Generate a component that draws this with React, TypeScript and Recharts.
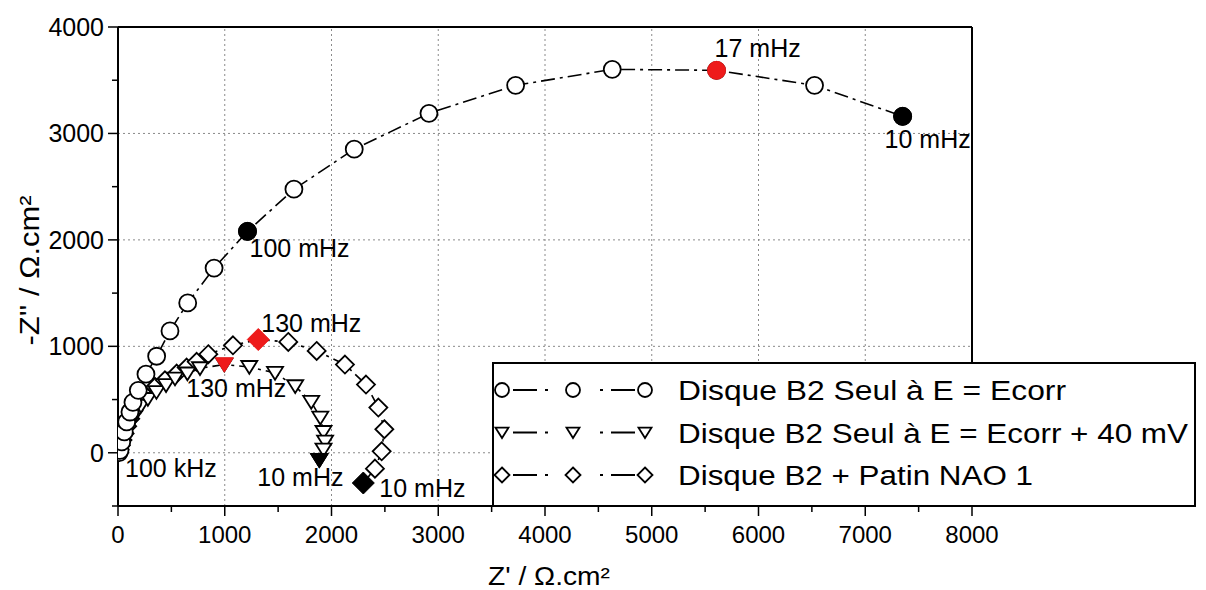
import React from 'react';
import { ScatterChart, Scatter, XAxis, YAxis, ReferenceLine, Label } from 'recharts';

const FONT = "'Liberation Sans', Arial, Helvetica, sans-serif";

// Z' and -Z'' (ohm.cm2), highest frequency first
const ecorrRe = [10, 19, 35, 59, 81, 112, 140, 190, 262, 362, 487, 653, 900, 1213, 1648, 2213, 2913, 3725, 4630, 5607, 6525, 7350];
const ecorrIm = [2, 23, 102, 196, 290, 383, 474, 587, 738, 907, 1145, 1408, 1735, 2080, 2476, 2852, 3189, 3452, 3602, 3593, 3452, 3161];

const plus40Re = [8, 16, 28, 45, 66, 92, 125, 165, 215, 280, 360, 450, 534, 650, 768, 996, 1230, 1471, 1660, 1810, 1895, 1925, 1940, 1925, 1886];
const plus40Im = [5, 30, 70, 120, 175, 235, 300, 370, 440, 505, 570, 635, 697, 745, 794, 829, 806, 750, 625, 478, 330, 195, 105, 30, -70];

const patinRe = [6, 14, 26, 42, 62, 86, 115, 145, 175, 253, 347, 440, 550, 643, 737, 846, 1077, 1314, 1595, 1861, 2126, 2323, 2439, 2495, 2470, 2407, 2298];
const patinIm = [4, 30, 70, 120, 180, 250, 320, 395, 462, 540, 618, 681, 744, 800, 855, 926, 1010, 1064, 1041, 957, 829, 641, 425, 221, 14, -149, -284];

// frequency markers
const ecorrMarks = [
  { re: 10, im: 2, freq: '100 kHz', kind: 'text' },
  { re: 1213, im: 2080, freq: '100 mHz', kind: 'end' },
  { re: 5607, im: 3593, freq: '17 mHz', kind: 'peak' },
  { re: 7350, im: 3161, freq: '10 mHz', kind: 'end' },
];
const plus40Marks = [
  { re: 996, im: 829, freq: '130 mHz', kind: 'peak' },
  { re: 1886, im: -70, freq: '10 mHz', kind: 'end' },
];
const patinMarks = [
  { re: 1314, im: 1064, freq: '130 mHz', kind: 'peak' },
  { re: 2298, im: -284, freq: '10 mHz', kind: 'end' },
];

const xTicks = [0, 500, 1000, 1500, 2000, 2500, 3000, 3500, 4000, 4500, 5000, 5500, 6000, 6500, 7000, 7500, 8000];
const yTicks = [-500, 0, 500, 1000, 1500, 2000, 2500, 3000, 3500, 4000];
const xGrid = [1000, 2000, 3000, 4000, 5000, 6000, 7000];
const yGrid = [0, 1000, 2000, 3000];

const seriesNames = [
  'Disque B2 Seul à E = Ecorr',
  'Disque B2 Seul à E = Ecorr + 40 mV',
  'Disque B2 + Patin NAO 1',
];

const zip = (re: number[], im: number[]) => re.map((v, i) => ({ re: v, im: im[i] }));

const RED = '#ee1b1b';
const lineStyle = { stroke: '#000', strokeWidth: 1.6, strokeDasharray: '14 5 3 5' };

type Sym = 'circle' | 'triangle' | 'diamond';

function symbol(kind: Sym, cx: number, cy: number, s: number, fill: string, sw: number) {
  const stroke = fill === '#fff' ? '#000' : fill;
  if (kind === 'circle') {
    return <circle cx={cx} cy={cy} r={s} fill={fill} stroke={stroke} strokeWidth={sw} />;
  }
  if (kind === 'triangle') {
    const pts = `${cx - s},${cy - s * 0.75} ${cx + s},${cy - s * 0.75} ${cx},${cy + s * 0.85}`;
    return <polygon points={pts} fill={fill} stroke={stroke} strokeWidth={sw} />;
  }
  const pts = `${cx},${cy - s} ${cx + s},${cy} ${cx},${cy + s} ${cx - s},${cy}`;
  return <polygon points={pts} fill={fill} stroke={stroke} strokeWidth={sw} />;
}

const openShape = (kind: Sym, size: number) => (props: any) => {
  const { cx, cy } = props;
  if (cx == null || cy == null) return <g />;
  return symbol(kind, cx, cy, size, '#fff', 1.8);
};

// where each frequency label sits relative to its point (left edge, baseline)
const labelNudge: Record<string, [number, number]> = {
  'circle:100 kHz': [6, 24],
  'circle:100 mHz': [2, 26],
  'circle:17 mHz': [-2, -13],
  'circle:10 mHz': [-18, 32],
  'triangle:130 mHz': [-38, 32],
  'triangle:10 mHz': [-62, 26],
  'diamond:130 mHz': [3, -8],
  'diamond:10 mHz': [16, 14],
};

const markShape = (kind: Sym, size: number) => (props: any) => {
  const { cx, cy, payload } = props;
  if (cx == null || cy == null) return <g />;
  const [dx, dy] = labelNudge[`${kind}:${payload.freq}`] || [0, 0];
  return (
    <g>
      {payload.kind !== 'text' && symbol(kind, cx, cy, size, payload.kind === 'peak' ? RED : '#000', 1)}
      <text x={cx + dx} y={cy + dy} fontSize={25} fontFamily={FONT} fill="#000">{payload.freq}</text>
    </g>
  );
};

const XTick = (props: any) => {
  const { x, y, payload } = props;
  const major = payload.value % 1000 === 0;
  return (
    <g>
      <line x1={x} y1={y} x2={x} y2={y + (major ? 10 : 6)} stroke="#000" strokeWidth={1.5} />
      {major && (
        <text x={x} y={y + 37} textAnchor="middle" fontSize={24} fontFamily={FONT} fill="#000">{payload.value}</text>
      )}
    </g>
  );
};

const YTick = (props: any) => {
  const { x, y, payload } = props;
  const major = payload.value % 1000 === 0;
  return (
    <g>
      <line x1={x - (major ? 10 : 6)} y1={y} x2={x} y2={y} stroke="#000" strokeWidth={1.5} />
      {major && (
        <text x={x - 14} y={y + 9} textAnchor="end" fontSize={25} fontFamily={FONT} fill="#000">{payload.value}</text>
      )}
    </g>
  );
};

const legendWidths = [388, 510, 355];
const legendSyms: Sym[] = ['circle', 'triangle', 'diamond'];

const LegendBox = () => (
  <div
    style={{
      position: 'absolute', left: 492, top: 362, width: 704, height: 145, boxSizing: 'border-box',
      border: '2px solid #000', background: '#fff',
    }}
  >
    <svg width={700} height={141} style={{ display: 'block' }}>
      {seriesNames.map((name, i) => {
        const cy = 26 + i * 42.5;
        const sz = legendSyms[i] === 'circle' ? 7 : legendSyms[i] === 'triangle' ? 6.5 : 7.5;
        return (
          <g key={name}>
            <line x1={19} y1={cy} x2={70} y2={cy} stroke="#000" strokeWidth={2} strokeDasharray="24 8 3 100" />
            <line x1={90} y1={cy} x2={141} y2={cy} stroke="#000" strokeWidth={2} strokeDasharray="0 16 3 8 24 100" />
            {[8, 79, 151].map((mx) => <g key={mx}>{symbol(legendSyms[i], mx, cy, sz, '#fff', 1.8)}</g>)}
            <text x={184} y={cy + 10} fontSize={27} fontFamily={FONT} fill="#000" textLength={legendWidths[i]} lengthAdjust="spacingAndGlyphs">
              {name}
            </text>
          </g>
        );
      })}
    </svg>
  </div>
);

export default function App() {
  return (
    <div style={{ position: 'relative', width: 1206, height: 590, overflow: 'hidden' }}>
      <style>{'html, body { margin: 0; overflow: hidden; }'}</style>
      <ScatterChart width={1206} height={590} margin={{ top: 27, right: 234, bottom: 0, left: 0 }}>
        <XAxis
          type="number" dataKey="re" domain={[0, 8000]} ticks={xTicks} interval={0} height={84}
          tickSize={0} tickMargin={0} tickLine={false} tick={<XTick />} axisLine={{ stroke: '#000', strokeWidth: 2 }}
          allowDataOverflow
        >
          <Label
            content={(p: any) => (
              <text x={p.viewBox.x + p.viewBox.width / 2 + 4} y={p.viewBox.y + 79} textAnchor="middle" fontSize={25} fontFamily={FONT} fill="#000" textLength={122} lengthAdjust="spacingAndGlyphs">
                Z' / Ω.cm²
              </text>
            )}
          />
        </XAxis>
        <YAxis
          type="number" dataKey="im" domain={[-500, 4000]} ticks={yTicks} interval={0} width={118}
          tickSize={0} tickMargin={0} tickLine={false} tick={<YTick />} axisLine={{ stroke: '#000', strokeWidth: 2 }}
          allowDataOverflow
        >
          <Label
            content={(p: any) => {
              const cx = 30;
              const cy = p.viewBox.y + p.viewBox.height / 2 + 4;
              return (
                <text x={cx} y={cy} transform={`rotate(-90 ${cx} ${cy})`} textAnchor="middle" dominantBaseline="central" fontSize={27} fontFamily={FONT} fill="#000" textLength={150} lengthAdjust="spacingAndGlyphs">
                  -Z'' / Ω.cm²
                </text>
              );
            }}
          />
        </YAxis>
        {xGrid.map((v) => (
          <ReferenceLine key={`gx${v}`} x={v} stroke="#8a8a8a" strokeWidth={1} strokeDasharray="2 3" />
        ))}
        {yGrid.map((v) => (
          <ReferenceLine key={`gy${v}`} y={v} stroke="#8a8a8a" strokeWidth={1} strokeDasharray="2 3" />
        ))}
        <ReferenceLine y={4000} stroke="#000" strokeWidth={2} />
        <ReferenceLine x={8000} stroke="#000" strokeWidth={2} />
        <Scatter data={zip(patinRe, patinIm)} line={lineStyle} lineType="joint" shape={openShape('diamond', 9)} isAnimationActive={false} />
        <Scatter data={zip(plus40Re, plus40Im)} line={lineStyle} lineType="joint" shape={openShape('triangle', 8)} isAnimationActive={false} />
        <Scatter data={zip(ecorrRe, ecorrIm)} line={lineStyle} lineType="joint" shape={openShape('circle', 8.5)} isAnimationActive={false} />
        <Scatter data={patinMarks} shape={markShape('diamond', 11)} isAnimationActive={false} />
        <Scatter data={plus40Marks} shape={markShape('triangle', 9)} isAnimationActive={false} />
        <Scatter data={ecorrMarks} shape={markShape('circle', 9)} isAnimationActive={false} />
      </ScatterChart>
      <LegendBox />
    </div>
  );
}
